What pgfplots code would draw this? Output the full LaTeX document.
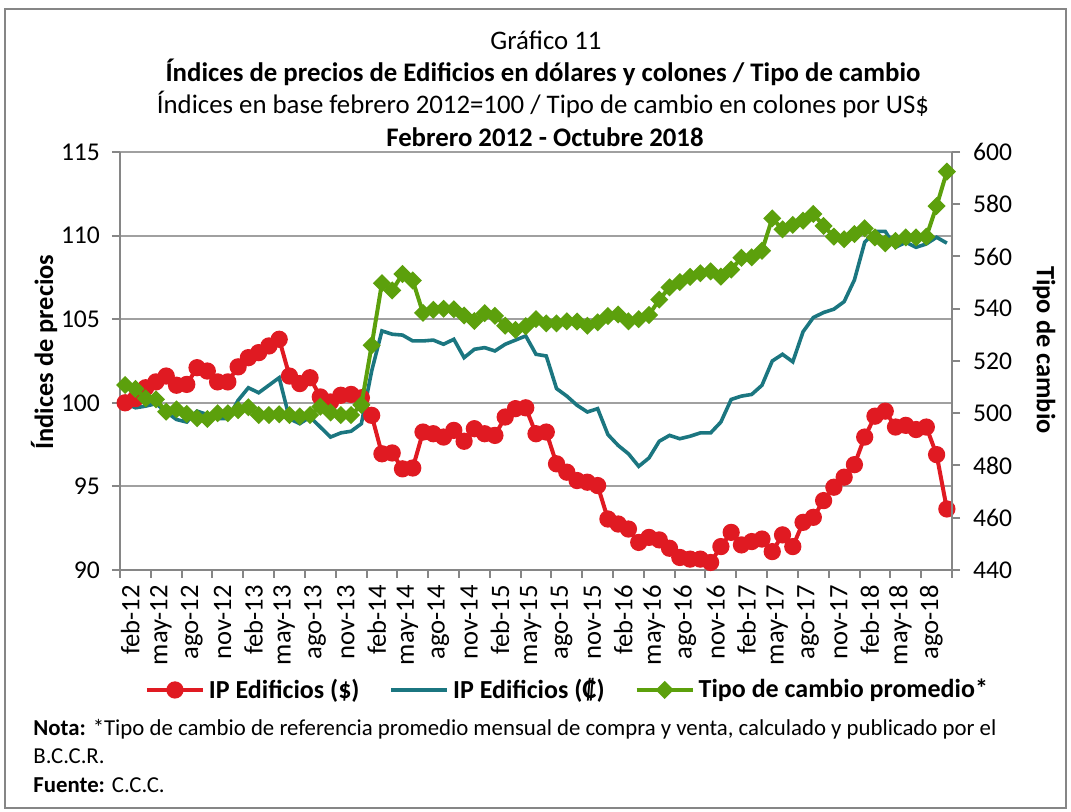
\documentclass[border=0pt]{standalone}
\usepackage{fontspec}
\setmainfont{Carlito}
\usepackage{pgfplots}
\usepackage{pgfplotstable}
\pgfplotsset{compat=1.18}
\definecolor{cred}{RGB}{224,26,34}
\definecolor{cblue}{RGB}{27,118,128}
\definecolor{cgreen}{RGB}{92,160,12}
\definecolor{cgrid}{RGB}{160,160,160}
\definecolor{caxis}{RGB}{134,134,134}
\pgfplotstableread{
x red blue green
0.5 100.0 100.0 510.8
1.5 100.25 99.7 509.3
2.5 100.9 99.8 505.7
3.5 101.25 99.95 505.3
4.5 101.6 99.45 500.6
5.5 101.05 99.0 501.5
6.5 101.1 98.85 499.7
7.5 102.1 99.5 498.1
8.5 101.9 99.3 497.8
9.5 101.25 99.05 500.0
10.5 101.25 99.05 500.0
11.5 102.15 100.15 501.2
12.5 102.7 100.9 502.3
13.5 103.0 100.6 499.3
14.5 103.4 101.05 499.3
15.5 103.8 101.5 499.6
16.5 101.6 99.05 499.3
17.5 101.15 98.75 498.8
18.5 101.5 99.15 499.3
19.5 100.35 98.55 502.5
20.5 100.05 97.95 500.3
21.5 100.45 98.2 499.3
22.5 100.5 98.3 499.3
23.5 100.3 98.75 503.2
24.5 99.25 101.9 526.0
25.5 96.95 104.3 549.8
26.5 97.0 104.1 547.0
27.5 96.05 104.05 553.3
28.5 96.1 103.7 550.8
29.5 98.25 103.7 538.4
30.5 98.15 103.75 539.6
31.5 97.95 103.5 540.0
32.5 98.35 103.8 539.8
33.5 97.7 102.7 537.4
34.5 98.45 103.2 535.3
35.5 98.15 103.3 538.3
36.5 98.05 103.1 537.3
37.5 99.15 103.5 533.5
38.5 99.65 103.75 531.9
39.5 99.7 104.0 533.3
40.5 98.15 102.9 536.0
41.5 98.25 102.8 534.4
42.5 96.35 100.85 534.4
43.5 95.85 100.4 535.2
44.5 95.35 99.85 535.1
45.5 95.25 99.45 533.5
46.5 95.05 99.65 534.8
47.5 93.05 98.1 537.2
48.5 92.75 97.45 537.8
49.5 92.45 96.95 535.2
50.5 91.65 96.2 536.0
51.5 91.95 96.7 537.6
52.5 91.8 97.7 543.5
53.5 91.3 98.05 548.2
54.5 90.75 97.85 550.2
55.5 90.65 98.0 552.2
56.5 90.65 98.2 553.6
57.5 90.45 98.2 554.3
58.5 91.4 98.85 552.3
59.5 92.25 100.2 555.0
60.5 91.5 100.4 559.5
61.5 91.7 100.5 559.7
62.5 91.85 101.05 562.2
63.5 91.1 102.5 574.6
64.5 92.1 102.9 570.4
65.5 91.4 102.45 572.1
66.5 92.85 104.25 573.7
67.5 93.15 105.1 576.3
68.5 94.15 105.4 571.7
69.5 94.95 105.6 567.6
70.5 95.55 106.05 566.6
71.5 96.3 107.35 568.6
72.5 97.95 109.6 570.8
73.5 99.2 110.25 567.3
74.5 99.5 110.25 565.0
75.5 98.55 109.3 566.0
76.5 98.65 109.6 567.3
77.5 98.4 109.3 567.3
78.5 98.55 109.5 567.6
79.5 96.9 109.9 579.3
80.5 93.65 109.55 592.5
}\data
\pgfplotsset{
  basestyle/.style={
    scale only axis, width=416pt, height=209pt,
    xmin=0, xmax=81,
    axis line style={caxis, line width=1pt, -},
    tick style={caxis, line width=1pt},
    tick align=outside, major tick length=4pt, minor tick length=4pt,
    /pgf/number format/assume math mode=true,
  }
}
\begin{document}
\begin{tikzpicture}
\begin{scope}[x=0.5pt,y=-0.5pt,shift={(-60pt,285pt)}]
\useasboundingbox (0,0) rectangle (1071,812);
\draw[caxis, line width=0.8pt] (5,9) rectangle (1066,808);
\end{scope}
\begin{axis}[basestyle,
  ymin=90, ymax=115,
  axis y line*=left, axis x line*=bottom,
  ytick={90,95,...,115},
  y tick label style={font=\fontsize{12.8}{14}\selectfont, xshift=-2.5pt},
  ymajorgrids, grid style={cgrid, line width=1pt},
  xtick={0.5,3.5,...,78.5},
  xticklabels={feb-12,may-12,ago-12,nov-12,feb-13,may-13,ago-13,nov-13,feb-14,may-14,ago-14,nov-14,feb-15,may-15,ago-15,nov-15,feb-16,may-16,ago-16,nov-16,feb-17,may-17,ago-17,nov-17,feb-18,may-18,ago-18},
  x tick label style={rotate=90, anchor=east, yshift=-2.5pt, font=\fontsize{13.3}{15}\selectfont},
  major x tick style={draw=none},
  minor xtick={0,3,...,81},
]
\addplot[cred, line width=2pt, mark=*, mark size=3.3pt] table[x=x,y=red]{\data};
\addplot[cblue, line width=1.8pt] table[x=x,y=blue]{\data};
\end{axis}
\begin{axis}[basestyle,
  ymin=440, ymax=600,
  axis y line*=right, axis x line=none,
  ytick={440,460,...,600},
  y tick label style={font=\fontsize{12.8}{14}\selectfont, xshift=3pt},
  legend style={at={(0.539,-0.287)}, anchor=center, draw=none, fill=none,
    legend columns=3, font=\bfseries\fontsize{13}{15}\selectfont,
    /tikz/every even column/.append style={column sep=13pt}},
  legend image code/.code={\draw[mark repeat=2,mark phase=2,#1] plot coordinates {(0pt,0pt)(14pt,0pt)(28pt,0pt)};},
]
\addlegendimage{cred, line width=2pt, mark=*, mark size=3.3pt}
\addlegendentry{IP Edificios (\$)}
\addlegendimage{cblue, line width=1.8pt}
\addlegendentry{IP Edificios (₡)}
\addplot[cgreen, line width=2pt, mark=square*, mark size=2.2pt, mark options={rotate=45}] table[x=x,y=green]{\data};
\addlegendentry{Tipo de cambio promedio*}
\end{axis}
\begin{scope}[x=0.5pt,y=-0.5pt,shift={(-60pt,285pt)}]
\node[font=\fontsize{13.4}{15}\selectfont] at (546,40) {Gráfico 11};
\node[font=\bfseries\fontsize{13.4}{15}\selectfont] at (543,72) {Índices de precios de Edificios en dólares y colones / Tipo de cambio};
\node[font=\fontsize{13.4}{15}\selectfont] at (543,104) {Índices en base febrero 2012=100 / Tipo de cambio en colones por US\$};
\node[font=\bfseries\fontsize{13.4}{15}\selectfont] at (545,137) {Febrero 2012 - Octubre 2018};
\node[rotate=90, font=\bfseries\fontsize{13.2}{15}\selectfont] at (44,352) {Índices de precios};
\node[rotate=-90, font=\bfseries\fontsize{13.2}{15}\selectfont] at (1044,350) {Tipo de cambio};
\node[anchor=west, font=\fontsize{11.4}{13}\selectfont, inner sep=0pt] at (33,729) {\textbf{Nota:} *Tipo de cambio de referencia promedio mensual de compra y venta, calculado y publicado por el};
\node[anchor=west, font=\fontsize{11.4}{13}\selectfont, inner sep=0pt] at (33,756) {B.C.C.R.};
\node[anchor=west, font=\fontsize{11.4}{13}\selectfont, inner sep=0pt] at (33,785) {\textbf{Fuente:} C.C.C.};
\end{scope}
\end{tikzpicture}
\end{document}
